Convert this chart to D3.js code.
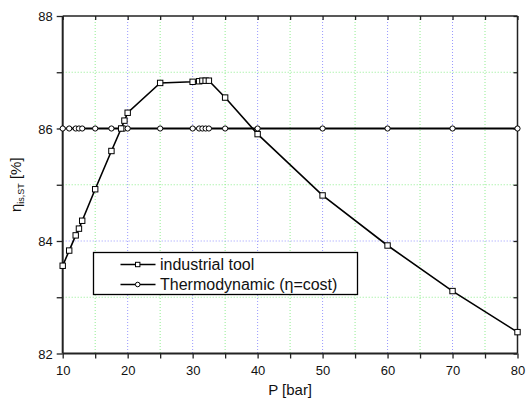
<!DOCTYPE html>
<html><head><meta charset="utf-8">
<script src="https://cdn.jsdelivr.net/npm/d3@7"></script>
<style>body{margin:0;background:#fff}svg{display:block}text{font-family:"Liberation Sans",Arial,sans-serif}</style>
</head><body>
<svg id="c" width="527" height="404"></svg>
<script>
const pressure = [10, 11, 12, 12.5, 13, 15, 17.5, 19, 19.5, 20, 25, 30, 31, 31.5, 32, 32.5, 35, 40, 50, 60, 70, 80];
const industrial = [83.56, 83.83, 84.1, 84.22, 84.36, 84.92, 85.6, 86.0, 86.14, 86.28, 86.81, 86.83, 86.84, 86.85, 86.85, 86.85, 86.55, 85.9, 84.81, 83.92, 83.11, 82.38];
const thermodynamic = [86, 86, 86, 86, 86, 86, 86, 86, 86, 86, 86, 86, 86, 86, 86, 86, 86, 86, 86, 86, 86, 86];
const xMajor = [10, 20, 30, 40, 50, 60, 70, 80];
const xMinor = [15, 25, 35, 45, 55, 65, 75];
const yMajor = [82, 84, 86, 88];
const yMinor = [83, 85, 87];
const seriesNames = ["industrial tool", "Thermodynamic (\u03b7=cost)"];

const svg = d3.select("#c");
const L = 62.7, R = 517.5, T = 16, B = 353.5;
const x = d3.scaleLinear().domain([10, 80]).range([L, R]);
const y = d3.scaleLinear().domain([82, 88]).range([B, T]);

// grid
const g = svg.append("g");
xMinor.forEach(v => g.append("line").attr("x1", x(v)).attr("x2", x(v)).attr("y1", T).attr("y2", B)
  .attr("stroke", "#90ee90").attr("stroke-width", 1).attr("stroke-dasharray", "1,2"));
xMajor.slice(1, -1).forEach(v => g.append("line").attr("x1", x(v)).attr("x2", x(v)).attr("y1", T).attr("y2", B)
  .attr("stroke", "#9999ff").attr("stroke-width", 1).attr("stroke-dasharray", "1,2"));
yMinor.forEach(v => g.append("line").attr("y1", y(v)).attr("y2", y(v)).attr("x1", L).attr("x2", R)
  .attr("stroke", "#90ee90").attr("stroke-width", 1).attr("stroke-dasharray", "1,2"));
yMajor.slice(1, -1).forEach(v => g.append("line").attr("y1", y(v)).attr("y2", y(v)).attr("x1", L).attr("x2", R)
  .attr("stroke", "#9999ff").attr("stroke-width", 1).attr("stroke-dasharray", "1,2"));

// axes
const allX = xMajor.concat(xMinor).sort((a, b) => a - b);
const allY = yMajor.concat(yMinor).sort((a, b) => a - b);
const axBottom = d3.axisBottom(x).tickValues(allX).tickSize(5).tickFormat(d => xMajor.includes(d) ? d : "");
const axTop = d3.axisTop(x).tickValues(allX).tickSize(-4).tickFormat("");
const axLeft = d3.axisLeft(y).tickValues(allY).tickSize(6).tickFormat(d => yMajor.includes(d) ? d : "");
const axRight = d3.axisRight(y).tickValues(allY).tickSize(-4).tickFormat("");
function styleAxis(sel) {
  sel.select(".domain").remove();
  sel.selectAll(".tick line").attr("stroke", "#222").attr("stroke-width", 1.3);
  sel.selectAll(".tick text").attr("fill", "#111").style("font-size", "13px").style("font-family", "'Liberation Sans',Arial,sans-serif");
}
const ax = svg.append("g");
const gb = ax.append("g").attr("transform", `translate(0,${B})`).call(axBottom); styleAxis(gb);
gb.selectAll(".tick text").attr("dy", "0").attr("y", 21);
const gt = ax.append("g").attr("transform", `translate(0,${T})`).call(axTop); styleAxis(gt);
const gl = ax.append("g").attr("transform", `translate(${L},0)`).call(axLeft); styleAxis(gl);
gl.selectAll(".tick text").attr("x", -10).attr("dy", "0.36em");
const gr = ax.append("g").attr("transform", `translate(${R},0)`).call(axRight); styleAxis(gr);
ax.append("line").attr("x1", L).attr("x2", R).attr("y1", T).attr("y2", T).attr("stroke", "#222").attr("stroke-width", 1.5);
ax.append("line").attr("x1", R).attr("x2", R).attr("y1", T).attr("y2", B).attr("stroke", "#222").attr("stroke-width", 1.5);
ax.append("line").attr("x1", L).attr("x2", R).attr("y1", B).attr("y2", B).attr("stroke", "#222").attr("stroke-width", 2);
ax.append("line").attr("x1", L).attr("x2", L).attr("y1", T).attr("y2", B).attr("stroke", "#222").attr("stroke-width", 2);

// series
const line = d3.line();
const thermoPts = pressure.map((p, i) => [x(p), y(thermodynamic[i])]);
const indPts = pressure.map((p, i) => [x(p), y(industrial[i])]);
svg.append("path").attr("d", line(thermoPts)).attr("fill", "none").attr("stroke", "#000").attr("stroke-width", 2);
svg.append("path").attr("d", line(indPts)).attr("fill", "none").attr("stroke", "#000").attr("stroke-width", 1.6);
thermoPts.forEach(p => svg.append("circle").attr("cx", p[0]).attr("cy", p[1]).attr("r", 2.6)
  .attr("fill", "#fff").attr("stroke", "#000").attr("stroke-width", 1));
indPts.forEach(p => svg.append("rect").attr("x", p[0] - 2.7).attr("y", p[1] - 2.7).attr("width", 5.4).attr("height", 5.4)
  .attr("fill", "#fff").attr("stroke", "#000").attr("stroke-width", 1));

// legend
const lg = svg.append("g");
lg.append("rect").attr("x", 93.5).attr("y", 252.5).attr("width", 264).attr("height", 42)
  .attr("fill", "#fff").attr("stroke", "#000").attr("stroke-width", 1.3);
[264.5, 284.5].forEach((yy, i) => {
  lg.append("line").attr("x1", 120.5).attr("x2", 155.5).attr("y1", yy).attr("y2", yy).attr("stroke", "#000").attr("stroke-width", 1.6);
  if (i === 0) lg.append("rect").attr("x", 135.5).attr("y", yy - 2.2).attr("width", 4.4).attr("height", 4.4).attr("fill", "#fff").attr("stroke", "#000").attr("stroke-width", 1);
  else lg.append("circle").attr("cx", 137.7).attr("cy", yy).attr("r", 2.3).attr("fill", "#fff").attr("stroke", "#000").attr("stroke-width", 1);
  lg.append("text").attr("x", 160).attr("y", yy + 5.5).style("font-size", "16px").attr("fill", "#111").text(seriesNames[i]);
});

// titles
svg.append("text").attr("x", (L + R) / 2).attr("y", 395).attr("text-anchor", "middle").style("font-size", "15px").attr("fill", "#111").text("P [bar]");
const yt = svg.append("text").attr("transform", `translate(21,${(T + B) / 2}) rotate(-90)`).attr("text-anchor", "middle").style("font-size", "15px").attr("fill", "#111");
yt.append("tspan").text("\u03b7");
yt.append("tspan").attr("dy", 3).style("font-size", "9px").text("is,ST");
yt.append("tspan").attr("dy", -3).text(" [%]");
</script>
</body></html>
